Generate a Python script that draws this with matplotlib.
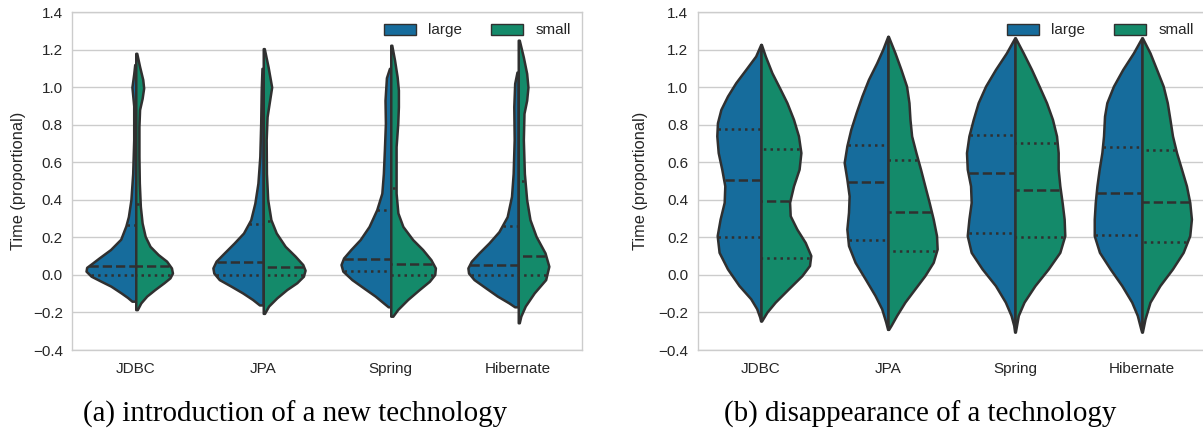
import numpy as np
import matplotlib
matplotlib.use("Agg")
import matplotlib.pyplot as plt
from matplotlib.patches import Patch

# ---------------- data ----------------
categories = ["JDBC", "JPA", "Spring", "Hibernate"]
hues = ["large", "small"]
yticks = [-0.4, -0.2, 0.0, 0.2, 0.4, 0.6, 0.8, 1.0, 1.2, 1.4]
ylabel = "Time (proportional)"
captions = ["(a) introduction of a new technology", "(b) disappearance of a technology"]

# violin half profiles: (time value, half width)
a_jdbc_large = [(1.12, 0.008), (1.07, 0.016), (1.0, 0.03), (0.9, 0.016), (0.72, 0.016), (0.54, 0.024),
                (0.4, 0.038), (0.31, 0.058), (0.26, 0.078), (0.19, 0.118), (0.135, 0.198), (0.09, 0.288),
                (0.064, 0.338), (0.04, 0.385), (0.02, 0.39), (-0.007, 0.35), (-0.034, 0.272),
                (-0.06, 0.195), (-0.096, 0.115), (-0.12, 0.065), (-0.14, 0.03)]
a_jdbc_small = [(1.18, 0.008), (1.11, 0.03), (1.04, 0.055), (0.995, 0.062), (0.94, 0.05), (0.88, 0.03),
                (0.79, 0.025), (0.63, 0.025), (0.49, 0.028), (0.365, 0.036), (0.276, 0.05), (0.205, 0.074),
                (0.152, 0.112), (0.108, 0.176), (0.073, 0.242), (0.037, 0.28), (0.01, 0.288),
                (-0.016, 0.268), (-0.042, 0.221), (-0.078, 0.15), (-0.113, 0.086), (-0.149, 0.04),
                (-0.185, 0.012)]
a_jpa_large = [(1.1, 0.01), (0.984, 0.016), (0.807, 0.02), (0.63, 0.027), (0.488, 0.042), (0.382, 0.066),
               (0.294, 0.098), (0.223, 0.155), (0.17, 0.228), (0.117, 0.306), (0.073, 0.37), (0.037, 0.395),
               (0.01, 0.388), (-0.025, 0.345), (-0.06, 0.253), (-0.096, 0.162), (-0.131, 0.084),
               (-0.16, 0.03)]
a_jpa_small = [(1.205, 0.008), (1.108, 0.038), (1.0, 0.066), (0.93, 0.05), (0.842, 0.03), (0.72, 0.023),
               (0.54, 0.025), (0.4, 0.035), (0.294, 0.06), (0.223, 0.102), (0.152, 0.172), (0.1, 0.25),
               (0.055, 0.31), (0.025, 0.328), (-0.007, 0.315), (-0.042, 0.263), (-0.078, 0.185),
               (-0.122, 0.107), (-0.166, 0.042), (-0.205, 0.01)]
a_spring_large = [(1.1, 0.01), (1.05, 0.034), (0.93, 0.045), (0.807, 0.042), (0.665, 0.05), (0.54, 0.058),
                  (0.435, 0.07), (0.347, 0.11), (0.258, 0.17), (0.188, 0.24), (0.135, 0.313), (0.09, 0.37),
                  (0.055, 0.39), (0.02, 0.376), (-0.025, 0.305), (-0.069, 0.214), (-0.113, 0.122),
                  (-0.149, 0.058), (-0.17, 0.02)]
a_spring_small = [(1.223, 0.008), (1.143, 0.03), (1.055, 0.05), (0.984, 0.06), (0.896, 0.06),
                  (0.807, 0.055), (0.683, 0.042), (0.54, 0.042), (0.435, 0.042), (0.33, 0.056),
                  (0.258, 0.095), (0.188, 0.172), (0.135, 0.25), (0.081, 0.315), (0.037, 0.35),
                  (0.002, 0.345), (-0.034, 0.303), (-0.078, 0.224), (-0.131, 0.133), (-0.184, 0.055),
                  (-0.22, 0.016)]
a_hib_large = [(1.08, 0.01), (1.02, 0.028), (0.896, 0.035), (0.72, 0.032), (0.54, 0.04), (0.418, 0.053),
               (0.31, 0.087), (0.23, 0.152), (0.17, 0.23), (0.117, 0.308), (0.073, 0.368), (0.037, 0.395),
               (0.01, 0.39), (-0.025, 0.347), (-0.069, 0.256), (-0.113, 0.164), (-0.149, 0.074),
               (-0.17, 0.028)]
a_hib_small = [(1.25, 0.008), (1.16, 0.04), (1.073, 0.066), (1.0, 0.076), (0.93, 0.066), (0.86, 0.045),
               (0.72, 0.04), (0.54, 0.048), (0.4, 0.066), (0.294, 0.092), (0.205, 0.14), (0.117, 0.21),
               (0.046, 0.24), (-0.025, 0.215), (-0.096, 0.125), (-0.166, 0.055), (-0.22, 0.02),
               (-0.255, 0.008)]

b_jdbc_large = [(1.227, 0.002), (1.165, 0.042), (1.094, 0.12), (1.023, 0.199), (0.952, 0.264),
                (0.881, 0.316), (0.81, 0.343), (0.74, 0.348), (0.651, 0.337), (0.563, 0.309),
                (0.474, 0.285), (0.386, 0.29), (0.297, 0.322), (0.209, 0.345), (0.12, 0.33),
                (0.032, 0.264), (-0.057, 0.173), (-0.127, 0.081), (-0.18, 0.034), (-0.225, 0.01),
                (-0.245, 0.003)]
b_jdbc_small = [(1.227, 0.003), (1.165, 0.034), (1.076, 0.086), (0.988, 0.152), (0.917, 0.204),
                (0.828, 0.256), (0.74, 0.295), (0.651, 0.314), (0.563, 0.3), (0.474, 0.256),
                (0.386, 0.225), (0.315, 0.23), (0.244, 0.282), (0.173, 0.348), (0.103, 0.392),
                (0.05, 0.382), (-0.004, 0.322), (-0.074, 0.217), (-0.145, 0.112), (-0.198, 0.047),
                (-0.245, 0.005)]
b_jpa_large = [(1.27, 0.002), (1.2, 0.042), (1.129, 0.089), (1.041, 0.154), (0.952, 0.206), (0.864, 0.251),
               (0.775, 0.293), (0.687, 0.324), (0.598, 0.345), (0.51, 0.324), (0.421, 0.306),
               (0.333, 0.311), (0.244, 0.324), (0.156, 0.311), (0.067, 0.259), (-0.021, 0.18),
               (-0.11, 0.102), (-0.18, 0.05), (-0.251, 0.018), (-0.29, 0.003)]
b_jpa_small = [(1.27, 0.003), (1.182, 0.055), (1.094, 0.102), (1.005, 0.146), (0.917, 0.165),
               (0.828, 0.173), (0.74, 0.186), (0.651, 0.22), (0.563, 0.256), (0.474, 0.29), (0.386, 0.324),
               (0.297, 0.356), (0.209, 0.382), (0.138, 0.387), (0.067, 0.356), (-0.004, 0.29),
               (-0.074, 0.212), (-0.145, 0.133), (-0.216, 0.068), (-0.269, 0.024), (-0.29, 0.005)]
b_spring_large = [(1.262, 0.002), (1.182, 0.068), (1.094, 0.154), (1.005, 0.232), (0.917, 0.29),
                  (0.828, 0.329), (0.74, 0.363), (0.651, 0.382), (0.563, 0.376), (0.474, 0.35),
                  (0.386, 0.345), (0.297, 0.363), (0.209, 0.376), (0.12, 0.345), (0.032, 0.259),
                  (-0.057, 0.154), (-0.145, 0.076), (-0.216, 0.031), (-0.269, 0.01), (-0.304, 0.003)]
b_spring_small = [(1.262, 0.003), (1.182, 0.065), (1.094, 0.13), (1.005, 0.19), (0.917, 0.248),
                  (0.828, 0.295), (0.74, 0.327), (0.651, 0.34), (0.563, 0.34), (0.474, 0.353),
                  (0.386, 0.371), (0.297, 0.387), (0.209, 0.392), (0.12, 0.353), (0.032, 0.262),
                  (-0.057, 0.157), (-0.145, 0.071), (-0.216, 0.026), (-0.304, 0.003)]
b_hib_large = [(1.262, 0.002), (1.182, 0.068), (1.094, 0.152), (1.005, 0.225), (0.917, 0.277),
               (0.846, 0.295), (0.74, 0.303), (0.651, 0.316), (0.563, 0.337), (0.474, 0.355),
               (0.386, 0.368), (0.297, 0.376), (0.209, 0.376), (0.12, 0.335), (0.032, 0.251),
               (-0.057, 0.159), (-0.145, 0.081), (-0.216, 0.037), (-0.287, 0.01), (-0.304, 0.003)]
b_hib_small = [(1.262, 0.003), (1.182, 0.063), (1.094, 0.115), (1.005, 0.167), (0.917, 0.199),
               (0.828, 0.22), (0.74, 0.24), (0.651, 0.272), (0.563, 0.311), (0.474, 0.35), (0.386, 0.376),
               (0.297, 0.389), (0.209, 0.376), (0.12, 0.324), (0.032, 0.24), (-0.057, 0.141),
               (-0.145, 0.063), (-0.234, 0.024), (-0.304, 0.003)]

# quartiles (Q1, median, Q3) for each half
a_quart_large = [(0.0, 0.046, 0.264), (0.0, 0.067, 0.27), (0.02, 0.085, 0.343), (0.0, 0.05, 0.258)]
a_quart_small = [(0.0, 0.046, 0.379), (0.0, 0.042, 0.288), (0.0, 0.058, 0.464), (0.0, 0.1, 0.5)]
b_quart_large = [(0.2, 0.504, 0.777), (0.184, 0.496, 0.694), (0.223, 0.543, 0.743), (0.212, 0.437, 0.681)]
b_quart_small = [(0.088, 0.395, 0.673), (0.126, 0.333, 0.614), (0.202, 0.451, 0.704), (0.175, 0.386, 0.664)]

a_large = [a_jdbc_large, a_jpa_large, a_spring_large, a_hib_large]
a_small = [a_jdbc_small, a_jpa_small, a_spring_small, a_hib_small]
b_large = [b_jdbc_large, b_jpa_large, b_spring_large, b_hib_large]
b_small = [b_jdbc_small, b_jpa_small, b_spring_small, b_hib_small]

# ---------------- style ----------------
BLUE = "#166C9C"
GREEN = "#148A6A"
OUT = "#303030"
GRID = "#cccccc"
LW = 1.8
TXT = "#262626"
plt.rcParams["font.family"] = ["Liberation Sans", "DejaVu Sans"]
plt.rcParams["lines.solid_capstyle"] = "butt"

fig = plt.figure(figsize=(12.03, 4.36), dpi=100)
W, H = 1203.0, 436.0
ax1 = fig.add_axes([72 / W, 1 - 350 / H, 510 / W, 338 / H])
ax2 = fig.add_axes([697.5 / W, 1 - 350 / H, 508 / W, 338 / H])


def draw_half(ax, pos, prof, side, color, quarts):
    y = np.array([p[0] for p in prof])
    w = np.array([p[1] for p in prof])
    x = pos - w if side == "left" else pos + w
    ax.fill_betweenx(y, x, pos, facecolor=color, edgecolor=OUT, linewidth=LW,
                     joinstyle="round", zorder=2)
    order = np.argsort(y)
    for q, ls in zip(quarts, [":", "--", ":"]):
        wq = np.interp(q, y[order], w[order]) - 0.008
        xq = pos - wq if side == "left" else pos + wq
        ax.plot([xq, pos], [q, q], linestyle=ls, color=OUT, linewidth=LW, zorder=3)


def setup(ax, large, small, ql, qs, label_x):
    for i, cat in enumerate(categories):
        draw_half(ax, i, large[i], "left", BLUE, ql[i])
        draw_half(ax, i, small[i], "right", GREEN, qs[i])
    ax.set_xlim(-0.5, 3.5)
    ax.set_ylim(-0.4, 1.4)
    ax.set_yticks(yticks)
    ax.set_yticklabels([f"{t:.1f}".replace("-", "\u2212") for t in yticks])
    ax.set_xticks(range(len(categories)))
    ax.set_xticklabels(categories)
    ax.tick_params(axis="y", length=0, pad=6.5, labelsize=11, labelcolor=TXT)
    ax.tick_params(axis="x", length=0, pad=8.5, labelsize=11, labelcolor=TXT)
    ax.yaxis.grid(True, color=GRID, linewidth=1.0, zorder=0)
    ax.xaxis.grid(False)
    ax.set_axisbelow(True)
    for s in ax.spines.values():
        s.set_color(GRID)
        s.set_linewidth(1.0)
    ax.set_ylabel(ylabel, fontsize=11.8, color=TXT, va="center")
    ax.yaxis.set_label_coords(label_x, 0.5)
    handles = [Patch(facecolor=BLUE, edgecolor=OUT, linewidth=1.0, label=hues[0]),
               Patch(facecolor=GREEN, edgecolor=OUT, linewidth=1.0, label=hues[1])]
    leg = ax.legend(handles=handles, ncol=2, loc="upper right", frameon=False, fontsize=11,
                    handlelength=2.1, handleheight=0.72, columnspacing=1.9, handletextpad=0.8,
                    borderaxespad=0.35)
    for t in leg.get_texts():
        t.set_color(TXT)


setup(ax1, a_large, a_small, a_quart_large, a_quart_small, -(72 - 18.5) / 510)
setup(ax2, b_large, b_small, b_quart_large, b_quart_small, -(697.5 - 640) / 508)

fig.text(295 / W, 1 - 414 / H, captions[0], ha="center", va="center", fontsize=20.9,
         family=["Liberation Serif", "DejaVu Serif"])
fig.text(920 / W, 1 - 414 / H, captions[1], ha="center", va="center", fontsize=20.9,
         family=["Liberation Serif", "DejaVu Serif"])

fig.savefig("out.png", dpi=100)
